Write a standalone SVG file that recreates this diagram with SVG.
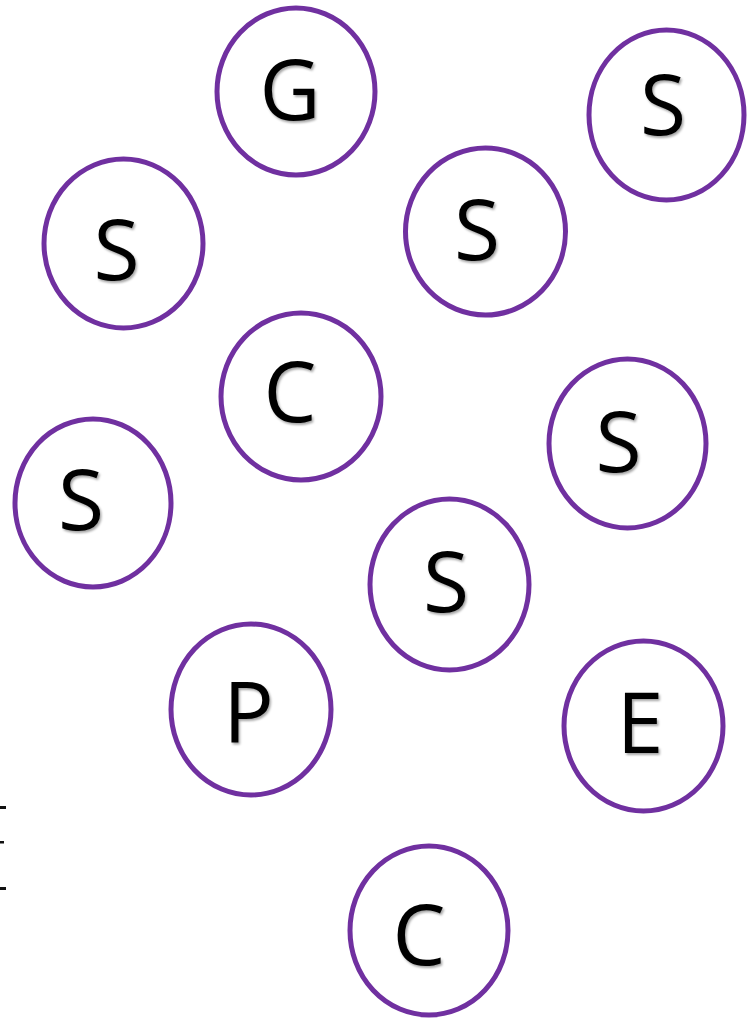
<svg xmlns="http://www.w3.org/2000/svg" width="754" height="1019" viewBox="0 0 754 1019">
  <defs>
    <filter id="sh" x="-20%" y="-20%" width="140%" height="140%">
      <feDropShadow dx="1.5" dy="2" stdDeviation="1.2" flood-color="#000" flood-opacity="0.35"/>
    </filter>
  </defs>
  <style>
    .n ellipse { fill: #ffffff; stroke: #7030A0; stroke-width: 5; }
    .n text { font-family: "Open Sans", "Noto Sans", "Liberation Sans", sans-serif; font-size: 84px; fill: #000; text-anchor: middle; filter: url(#sh); }
    .mark { fill: #111; }
  </style>
  <rect width="754" height="1019" fill="#ffffff"/>
  <g id="connectors"></g>
  <g id="marks">
    <rect class="mark" x="0" y="806" width="6" height="3"/>
    <rect class="mark" x="0" y="841" width="4" height="2.5"/>
    <rect class="mark" x="0" y="887" width="6" height="3"/>
  </g>
  <g id="nodeG" class="n"><ellipse cx="296" cy="91.5" rx="79" ry="83.5"/><text x="290" y="120">G</text></g>
  <g id="nodeS1" class="n"><ellipse cx="666.5" cy="115" rx="77.5" ry="85"/><text x="663" y="135">S</text></g>
  <g id="nodeS2" class="n"><ellipse cx="123.5" cy="243.5" rx="79.5" ry="84.5"/><text x="116.5" y="280">S</text></g>
  <g id="nodeS3" class="n"><ellipse cx="485.5" cy="231.5" rx="80" ry="83.5"/><text x="477" y="260">S</text></g>
  <g id="nodeC1" class="n"><ellipse cx="301" cy="396.5" rx="80" ry="83.5"/><text x="290" y="422">C</text></g>
  <g id="nodeS4" class="n"><ellipse cx="93" cy="503" rx="78" ry="84"/><text x="81" y="530">S</text></g>
  <g id="nodeS5" class="n"><ellipse cx="627.5" cy="443.5" rx="78.5" ry="84.5"/><text x="618.5" y="472">S</text></g>
  <g id="nodeS6" class="n"><ellipse cx="449.5" cy="584.5" rx="79.5" ry="85.5"/><text x="446" y="612">S</text></g>
  <g id="nodeP" class="n"><ellipse cx="251" cy="709.5" rx="80" ry="85.5"/><text x="248.5" y="743">P</text></g>
  <g id="nodeE" class="n"><ellipse cx="643.5" cy="726" rx="79.5" ry="85"/><text x="640" y="753">E</text></g>
  <g id="nodeC2" class="n"><ellipse cx="429" cy="930.5" rx="79" ry="84.5"/><text x="419" y="965">C</text></g>
</svg>
